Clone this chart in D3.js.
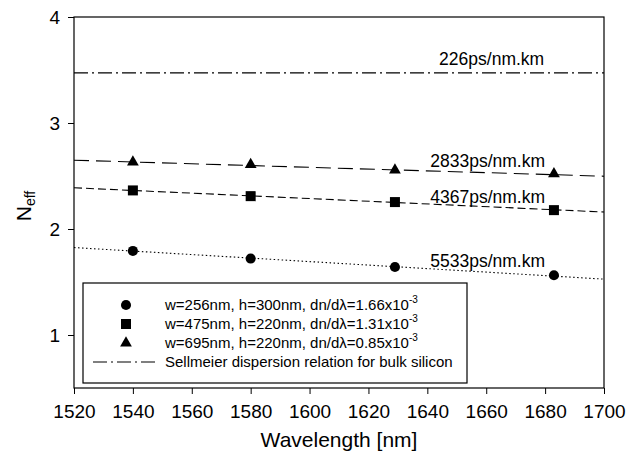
<!DOCTYPE html>
<html>
<head>
<meta charset="utf-8">
<script src="https://cdn.jsdelivr.net/npm/d3@7"></script>
<style>
  body { margin: 0; background: #fff; }
  svg { font-family: 'Liberation Sans', Arial, Helvetica, sans-serif; }
</style>
</head>
<body>
<script>
// measured points (wavelength in nm)
const wavelengths = [1540, 1580, 1629, 1683];
const neffCircle = [1.793, 1.721, 1.642, 1.564];
const neffSquare = [2.364, 2.310, 2.254, 2.178];
const neffTriangle = [2.632, 2.608, 2.555, 2.521];

// fitted lines, read at both ends of the axis
const fitX = [1520, 1700];
const fitCircle = [1.825, 1.527];
const fitSquare = [2.389, 2.160];
const fitTriangle = [2.649, 2.498];
const fitSellmeier = [3.473, 3.473];

const xTicks = [1520, 1540, 1560, 1580, 1600, 1620, 1640, 1660, 1680, 1700];
const yTicks = [1, 2, 3, 4];

const dispersionLabels = [
  { text: '226ps/nm.km', wl: 1644, n: 3.548 },
  { text: '2833ps/nm.km', wl: 1641, n: 2.589 },
  { text: '4367ps/nm.km', wl: 1641, n: 2.250 },
  { text: '5533ps/nm.km', wl: 1641, n: 1.637 },
];

const legendLabels = [
  { main: 'w=256nm, h=300nm, dn/d\u03bb=1.66x10', sup: '-3' },
  { main: 'w=475nm, h=220nm, dn/d\u03bb=1.31x10', sup: '-3' },
  { main: 'w=695nm, h=220nm, dn/d\u03bb=0.85x10', sup: '-3' },
  { main: 'Sellmeier dispersion relation for bulk silicon', sup: '' },
];

const svgWidth = 638, svgHeight = 454;
const margins = { top: 17, right: 34, bottom: 66, left: 74 };
const innerW = svgWidth - margins.left - margins.right;
const innerH = svgHeight - margins.top - margins.bottom;

const svg = d3.select('body')
  .append('svg')
  .attr('width', svgWidth)
  .attr('height', svgHeight);

const g = svg.append('g')
  .attr('transform', `translate(${margins.left}, ${margins.top})`);

const x = d3.scaleLinear().domain([1520, 1700]).range([0, innerW]);
const y = d3.scaleLinear().domain([0.5, 4]).range([innerH, 0]);

const series = [
  { pts: neffCircle, fit: fitCircle, symbol: d3.symbolCircle, size: 80, dash: '1.5,2.5' },
  { pts: neffSquare, fit: fitSquare, symbol: d3.symbolSquare, size: 100, dash: '8,4' },
  { pts: neffTriangle, fit: fitTriangle, symbol: d3.symbolTriangle, size: 60, dash: '15,7' },
];

// axes
const xAxis = g.append('g')
  .attr('transform', `translate(0, ${innerH})`)
  .call(d3.axisBottom(x).tickValues(xTicks).tickFormat(d3.format('d'))
    .tickSize(6).tickSizeOuter(0).tickPadding(10.5));
const yAxis = g.append('g')
  .call(d3.axisLeft(y).tickValues(yTicks).tickFormat(d3.format('d'))
    .tickSize(6).tickSizeOuter(0).tickPadding(8));

[xAxis, yAxis].forEach(a => {
  a.select('.domain').remove();
  a.selectAll('text').attr('font-size', 19).attr('font-family', null).attr('fill', '#000');
  a.selectAll('line').attr('stroke', '#000');
});

g.append('rect')
  .attr('width', innerW)
  .attr('height', innerH)
  .attr('fill', 'none')
  .attr('stroke', '#000')
  .attr('stroke-width', 1.2);

svg.append('clipPath').attr('id', 'plot')
  .append('rect').attr('width', innerW).attr('height', innerH);

const line = d3.line()
  .x(d => x(d[0]))
  .y(d => y(d[1]));

// Sellmeier line
g.append('path')
  .datum(fitX.map((w, i) => [w, fitSellmeier[i]]))
  .attr('clip-path', 'url(#plot)')
  .attr('fill', 'none')
  .attr('stroke', '#000')
  .attr('stroke-width', 1.1)
  .attr('stroke-dasharray', '14,4,2,4')
  .attr('d', line);

series.forEach(s => {
  g.append('path')
    .datum(fitX.map((w, i) => [w, s.fit[i]]))
    .attr('clip-path', 'url(#plot)')
    .attr('fill', 'none')
    .attr('stroke', '#000')
    .attr('stroke-width', 1.1)
    .attr('stroke-dasharray', s.dash)
    .attr('d', line);

  g.selectAll(null)
    .data(wavelengths.map((w, i) => [w, s.pts[i]]))
    .enter()
    .append('path')
    .attr('transform', d => `translate(${x(d[0])}, ${y(d[1])})`)
    .attr('d', d3.symbol().type(s.symbol).size(s.size))
    .attr('fill', '#000');
});

g.selectAll('.disp')
  .data(dispersionLabels)
  .enter()
  .append('text')
  .attr('x', d => x(d.wl))
  .attr('y', d => y(d.n))
  .attr('font-size', 17.5)
  .text(d => d.text);

// legend
const legend = svg.append('g').attr('transform', 'translate(83, 283)');
legend.append('rect')
  .attr('width', 384)
  .attr('height', 100)
  .attr('fill', '#fff')
  .attr('stroke', '#000')
  .attr('stroke-width', 1.2);

const rowY = i => 22 + i * 19;

series.forEach((s, i) => {
  legend.append('path')
    .attr('transform', `translate(43, ${rowY(i)})`)
    .attr('d', d3.symbol().type(s.symbol).size(s.size))
    .attr('fill', '#000');
});

legend.append('line')
  .attr('x1', 10).attr('x2', 72)
  .attr('y1', rowY(3)).attr('y2', rowY(3))
  .attr('stroke', '#000')
  .attr('stroke-width', 1.1)
  .attr('stroke-dasharray', '14,4,2,4');

const lt = legend.selectAll('.lt')
  .data(legendLabels)
  .enter()
  .append('text')
  .attr('x', 82)
  .attr('y', (d, i) => rowY(i) + 5)
  .attr('font-size', 15);
lt.append('tspan').text(d => d.main);
lt.append('tspan')
  .attr('font-size', 10)
  .attr('dy', -7)
  .text(d => d.sup);

// axis titles
svg.append('text')
  .attr('x', margins.left + innerW / 2)
  .attr('y', 447)
  .attr('text-anchor', 'middle')
  .attr('font-size', 21)
  .text('Wavelength [nm]');

const yTitle = svg.append('text')
  .attr('transform', 'translate(31, 206) rotate(-90)')
  .attr('text-anchor', 'middle')
  .attr('font-size', 21);
yTitle.append('tspan').text('N');
yTitle.append('tspan').attr('font-size', 14).attr('dy', 4).text('eff');
</script>
</body>
</html>
